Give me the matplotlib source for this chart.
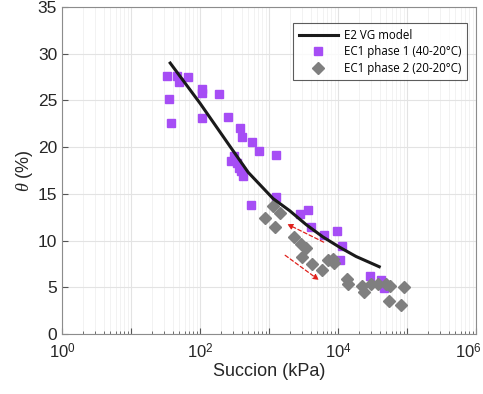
import numpy as np
import matplotlib
matplotlib.use("Agg")
import matplotlib.pyplot as plt
import matplotlib.transforms as mtransforms
from matplotlib.ticker import LogLocator, NullFormatter

plt.rcParams['font.family'] = ['Liberation Sans', 'DejaVu Sans']
plt.rcParams['mathtext.fontset'] = 'custom'
plt.rcParams['mathtext.rm'] = 'Liberation Sans'
plt.rcParams['mathtext.it'] = 'Liberation Serif:italic'

# ---- datos ----
# Modelo VG (E2)
vg_suc = [37, 100, 271, 500, 1143, 1990, 3467, 6018, 10480, 18240, 39600]
vg_theta = [29.0, 24.7, 20.1, 17.3, 14.5, 13.2, 11.7, 10.4, 9.3, 8.3, 7.2]

# EC1 fase 1 (40-20 C)
f1_suc = [33, 46, 50, 66.5, 106, 106, 188, 35, 38, 108, 256, 377, 404, 576,
          717, 1250, 313, 277, 339, 366, 387, 422, 1250, 540, 2773, 3656,
          4093, 6370, 9580, 11460, 10830, 29000, 41900, 46800]
f1_theta = [27.6, 27.6, 27.0, 27.5, 26.2, 25.8, 25.7, 25.1, 22.6, 23.1, 23.2,
            22.0, 21.1, 20.5, 19.6, 19.2, 19.1, 18.5, 18.3, 17.8, 17.4, 16.9,
            14.7, 13.8, 12.8, 13.3, 11.4, 10.6, 11.0, 9.4, 7.9, 6.2, 5.8, 4.9]

# EC1 fase 2 (20-20 C)
f2_suc = [1142, 1460, 887, 1208, 2326, 2936, 3388, 2993, 4173, 5816, 7104,
          8387, 8874, 13360, 13990, 21990, 24050, 30050, 37410, 49460, 57040,
          55170, 89900, 83000]
f2_theta = [13.7, 13.0, 12.4, 11.5, 10.4, 9.6, 9.2, 8.2, 7.5, 6.9, 7.9, 8.0,
            7.6, 5.9, 5.3, 5.1, 4.5, 5.3, 5.3, 5.3, 5.1, 3.5, 5.0, 3.1]

# flechas (inicio, fin)
arrow_up = [(6730, 9.7), (1687, 11.9)]
arrow_down = [(1592, 8.6), (5700, 5.6)]

fig = plt.figure(figsize=(4.83, 3.94), dpi=100)
ax = fig.add_axes([62/483, 1 - 334/394, 414/483, 327/394])

ax.plot(vg_suc, vg_theta, color="#1a1a1a", lw=2.2, label="E2 VG model", zorder=4)
ax.plot(f1_suc, f1_theta, ls="none", marker="s", ms=6, color="#a64df5",
        mec="#a64df5", label="EC1 phase 1 (40-20°C)", zorder=3)
ax.plot(f2_suc, f2_theta, ls="none", marker="D", ms=6.5, color="#7f7f7f",
        mec="#7f7f7f", label="EC1 phase 2 (20-20°C)", zorder=3)

for (x0, y0), (x1, y1) in [arrow_up, arrow_down]:
    ax.annotate("", xy=(x1, y1), xytext=(x0, y0),
                arrowprops=dict(arrowstyle="-|>", ls=(0, (3, 2)), color="#e0201b",
                                lw=0.9, mutation_scale=8), zorder=5)

ax.set_xscale("log")
ax.set_xlim(1, 1e6)
ax.set_ylim(0, 35)
ax.set_xticks([10.0**k for k in range(7)])
ax.set_xticklabels(["$10^{%d}$" % k if k % 2 == 0 else "" for k in range(7)])
ax.xaxis.set_minor_locator(LogLocator(base=10, subs=np.arange(2, 10), numticks=20))
ax.xaxis.set_minor_formatter(NullFormatter())
ax.set_yticks(range(0, 36, 5))

ax.grid(True, which="major", color="#e3e3e3", lw=0.8)
ax.grid(True, which="minor", axis="x", color="#f0f0f0", lw=0.6)
ax.set_axisbelow(True)
ax.tick_params(which="both", direction="in", color="#555555", labelsize=12.5,
               labelcolor="#262626")
ax.tick_params(axis="x", labelsize=12)
ax.tick_params(which="major", length=4)
ax.tick_params(which="minor", length=2)
ax.tick_params(axis="x", pad=6)
for s in ax.spines.values():
    s.set_color("#8c8c8c")

# la etiqueta 10^6 se corre a la izquierda para que entre en la figura
last = ax.get_xticklabels()[-1]
last.set_transform(last.get_transform() +
                   mtransforms.ScaledTranslation(-8/100, 0, fig.dpi_scale_trans))

ax.set_xlabel("Succion (kPa)", fontsize=13, color="#262626", labelpad=1)
ax.set_ylabel(r"$\theta$ (%)", fontsize=13, color="#262626", labelpad=2)

leg = ax.legend(loc="upper right", bbox_to_anchor=(0.978, 0.951),
                prop={"family": "Open Sans", "size": 8.3},
                frameon=True, fancybox=False, edgecolor="#333333",
                borderaxespad=0, handlelength=3.4, handletextpad=0.5,
                labelspacing=0.3, borderpad=0.5)
leg.get_frame().set_linewidth(0.8)

fig.savefig("out.png", dpi=100)
